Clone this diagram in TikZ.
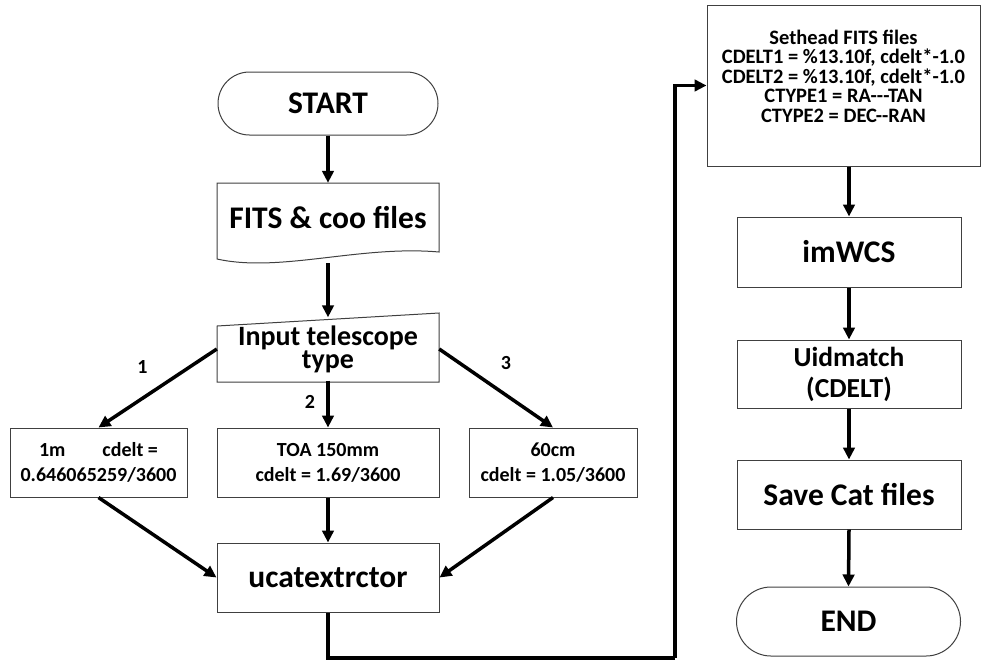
\documentclass[tikz,border=0pt]{standalone}
\usepackage{fontspec}
\setmainfont{Carlito}
\usetikzlibrary{arrows.meta}
\begin{document}
\begin{tikzpicture}[x=1pt,y=-1pt,
  box/.style={draw=black!75, line width=1pt, fill=white, align=center, inner sep=0pt},
  outline/.style={draw=black!75, line width=1pt, fill=white},
  plain/.style={align=center, inner sep=0pt},
  arr/.style={line width=3.5pt, -{Triangle[length=12pt,width=11.5pt]}},
  conn/.style={line width=3.5pt},
  big/.style={font=\bfseries\fontsize{31.5}{34}\selectfont},
  small/.style={font=\bfseries\fontsize{20}{25}\selectfont},
  lab/.style={font=\bfseries\fontsize{20}{22}\selectfont, inner sep=0pt}
]
\useasboundingbox (0,0) rectangle (981,662);

% ---- left column ----
\node[box, big, rounded corners=31.5pt, minimum width=220pt, minimum height=63pt] (start) at (328,103.5) {START};

\draw[outline] (217,183) -- (439,183) -- (439,252) .. controls (360,245) and (280,273) .. (217,259) -- cycle;
\node[plain, minimum width=222pt, minimum height=80pt] (fits) at (328,223) {};
\node[plain, big] (fitstext) at (328,217.5) {FITS \& coo files};

\draw[outline] (217,326) -- (439,313) -- (439,382) -- (217,382) -- cycle;
\node[plain, minimum width=222pt, minimum height=63pt, font=\bfseries\fontsize{28}{14.5}\selectfont] (inp) at (328,349) {Input telescope\\type};

\node[box, small, minimum width=177pt, minimum height=69pt] (m1) at (98.5,462.5) {1m\hspace{37pt}cdelt =\\0.646065259/3600};
\node[box, small, minimum width=222pt, minimum height=69pt] (toa) at (328,462.5) {TOA 150mm\\cdelt = 1.69/3600};
\node[box, small, minimum width=168pt, minimum height=69pt] (c60) at (553,462.5) {60cm\\cdelt = 1.05/3600};

\node[box, big, minimum width=222pt, minimum height=69pt] (ucat) at (328,577.5) {ucatextrctor};

\node[lab] (l1) at (142.5,366.5) {1};
\node[lab] (l2) at (310,401.5) {2};
\node[lab] (l3) at (506,363.5) {3};

% ---- right column ----
\node[box, minimum width=273pt, minimum height=161pt] (set) at (843.5,85.5) {};
\node[plain, font=\bfseries\fontsize{20.5}{19.5}\selectfont] (settext) at (843.5,76) {Sethead FITS files\\CDELT1 = \%13.10f, cdelt*-1.0\\CDELT2 = \%13.10f, cdelt*-1.0\\CTYPE1 = RA{-}{-}{-}TAN\\CTYPE2 = DEC{-}{-}RAN};

\node[box, big, minimum width=224pt, minimum height=70pt] (imwcs) at (849,252) {imWCS};
\node[box, font=\bfseries\fontsize{27.5}{31}\selectfont, minimum width=224pt, minimum height=68pt] (uid) at (849,374) {Uidmatch\\(CDELT)};
\node[box, big, minimum width=224pt, minimum height=69pt] (save) at (849,494.5) {Save Cat files};
\node[box, big, rounded corners=34.5pt, minimum width=224pt, minimum height=69pt] (end) at (848.5,621.5) {END};

\coordinate (turn) at (675,658);

% ---- connectors ----
\draw[arr] (start.south) -- (fits.north);
\draw[arr] (fits.south) -- (inp.north);
\draw[arr] (inp.west) -- (m1.north);
\draw[arr] (inp.south) -- (toa.north);
\draw[arr] (inp.east) -- (c60.north);
\draw[arr] (m1.south) -- (ucat.west);
\draw[arr] (toa.south) -- (ucat.north);
\draw[arr] (c60.south) -- (ucat.east);
\draw[conn] (ucat.south) |- (turn);
\draw[arr] (turn) |- (set.west);
\draw[arr] (imwcs.north |- set.south) -- (imwcs.north);
\draw[arr] (imwcs.south) -- (uid.north);
\draw[arr] (uid.south) -- (save.north);
\draw[arr] (save.south) -- (end.north);
\end{tikzpicture}
\end{document}
